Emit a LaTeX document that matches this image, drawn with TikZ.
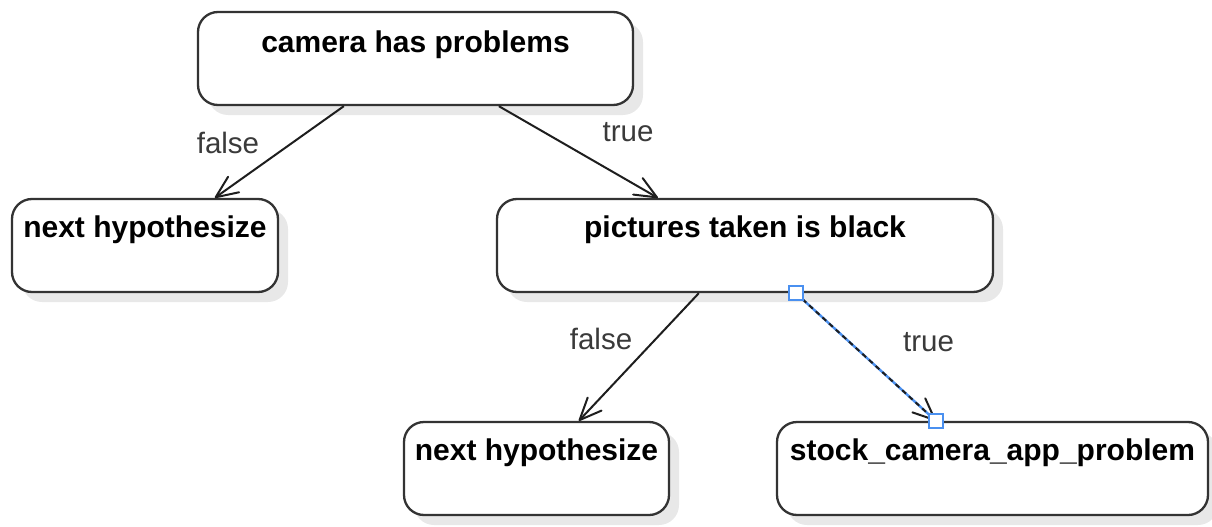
\documentclass[tikz,border=0pt]{standalone}
\usepackage{fontspec}
\setmainfont{Liberation Sans}
\usetikzlibrary{arrows.meta,shadows}
\definecolor{edgeclr}{HTML}{1E1E1E}
\definecolor{boxline}{HTML}{333333}
\definecolor{lblclr}{HTML}{3A3A3A}
\definecolor{selblue}{HTML}{4A90F0}
\tikzset{
  box/.style={draw=boxline, line width=2.3pt, rounded corners=20pt, fill=white,
    minimum height=93pt, inner sep=0pt,
    drop shadow={shadow xshift=10pt, shadow yshift=-10pt, fill=black!9, opacity=1}},
  boxtext/.style={anchor=base, inner sep=0pt, font=\fontsize{30}{36}\selectfont\bfseries},
  edgelbl/.style={anchor=base, inner sep=0pt, text=lblclr, font=\fontsize{29.5}{35}\selectfont},
  link/.style={draw=edgeclr, line width=2pt,
    -{Straight Barb[length=22pt,width=19pt,line width=2pt,round]}},
  handle/.style={draw=selblue, fill=white, line width=1.5pt, minimum size=14pt, inner sep=0pt}
}
\begin{document}
\begin{tikzpicture}[x=1pt,y=-1pt]
\useasboundingbox (0,0) rectangle (1212,527);

% decision boxes
\node[box, minimum width=435pt] (cam)   at (415.5,58.5) {};
\node[box, minimum width=266pt] (n1)    at (145,245.5) {};
\node[box, minimum width=496pt] (pic)   at (745,245.5) {};
\node[box, minimum width=265pt] (n2)    at (536.5,468.5) {};
\node[box, minimum width=431pt] (stock) at (992.5,468.5) {};

% box captions, set near the top of each box
\node[boxtext] (camT)   at ([yshift=-42pt]cam.north)     {camera has problems};
\node[boxtext] (n1T)    at ([yshift=-40pt]n1.north)      {next hypothesize};
\node[boxtext] (picT)   at ([yshift=-40pt]pic.north)     {pictures taken is black};
\node[boxtext] (n2T)    at ([yshift=-40pt]n2.north)      {next hypothesize};
\node[boxtext] (stockT) at ([yshift=-40pt]stock.north)   {stock\_camera\_app\_problem};

% branches
\draw[link] ([xshift=147pt]cam.south west) -- ([xshift=204pt]n1.north west);
\draw[link] ([xshift=302pt]cam.south west) -- ([xshift=162pt]pic.north west);
\draw[link] ([xshift=203pt]pic.south west) -- ([xshift=176pt]n2.north west);

% selected branch: blue highlight under a dashed stroke, with end handles
\coordinate (selA) at ([xshift=300pt]pic.south west);
\coordinate (selB) at ([xshift=160pt]stock.north west);
\draw[selblue, line width=2.4pt] (selA) -- (selB);
\draw[link, dash pattern=on 5pt off 4pt] (selA) -- (selB);
\node[handle] (hA) at (selA) {};
\node[handle] (hB) at (selB) {};

% branch labels
\node[edgelbl] (l1) at (228,153)   {false};
\node[edgelbl] (l2) at (628,141.5) {true};
\node[edgelbl] (l3) at (601,349)   {false};
\node[edgelbl] (l4) at (928.5,351) {true};
\end{tikzpicture}
\end{document}
